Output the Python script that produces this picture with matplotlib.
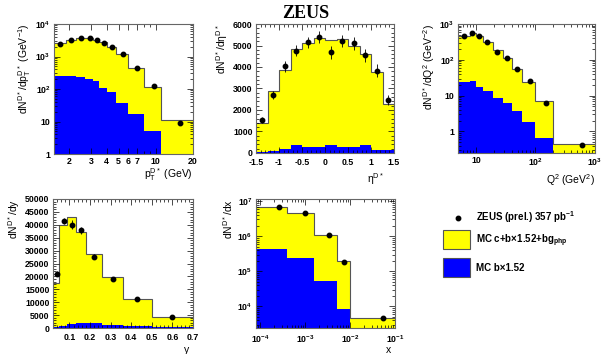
import numpy as np
import matplotlib
matplotlib.use('Agg')
from matplotlib import pyplot as plt
from matplotlib.patches import Rectangle
from matplotlib.ticker import FixedLocator, NullFormatter, AutoMinorLocator

plt.rcParams['font.family'] = ['Liberation Sans', 'DejaVu Sans']
plt.rcParams['font.weight'] = 'bold'
plt.rcParams['mathtext.fontset'] = 'custom'
plt.rcParams['mathtext.rm'] = 'Liberation Sans:bold'
plt.rcParams['mathtext.it'] = 'Liberation Sans:bold'
plt.rcParams['mathtext.bf'] = 'Liberation Sans:bold'
plt.rcParams['mathtext.default'] = 'regular'

YELLOW = '#ffff00'
BLUE = '#0000ff'
EDGE = '#555555'

# pT distribution
pt_edges = [1.5, 1.88, 2.28, 2.68, 3.08, 3.5, 4.0, 4.75, 6.0, 8.0, 11.0, 20.0]
pt_mc = [2680, 3300, 3700, 3800, 3300, 2700, 1950, 1220, 435, 113, 11]
pt_b = [245, 258, 235, 208, 177, 105, 79, 38, 17, 5, 0.5]
pt_x = [1.68, 2.07, 2.48, 2.92, 3.35, 3.82, 4.41, 5.42, 7.06, 9.66, 15.7]
pt_data = [2350, 3300, 3700, 3750, 3200, 2650, 1950, 1200, 440, 122, 9.2]
pt_err = [150, 180, 200, 200, 180, 150, 110, 70, 30, 10, 1.5]

# eta distribution
eta_edges = [-1.5, -1.25, -1.0, -0.75, -0.5, -0.25, 0.0, 0.25, 0.5, 0.75, 1.0, 1.25, 1.5]
eta_mc = [1390, 2875, 3865, 4840, 5100, 5330, 5240, 5290, 4980, 4610, 3760, 2300]
eta_b = [60, 110, 200, 390, 280, 290, 350, 280, 280, 350, 150, 150]
eta_data = [1530, 2705, 4035, 4760, 5150, 5395, 4685, 5210, 5100, 4545, 3835, 2460]
eta_err = [150, 200, 250, 250, 250, 280, 300, 300, 300, 300, 300, 250]

# Q2 distribution
q2_edges = [5, 8, 10, 13, 19, 28, 40, 60, 100, 200, 1000]
q2_mc = [450, 545, 450, 320, 183, 114, 57, 24.5, 7.1, 0.45]
q2_b = [24.4, 26, 17, 13.5, 8.7, 6.3, 3.7, 1.85, 0.65, 0.1]
q2_x = [6.3, 8.55, 11.1, 15.3, 22.7, 33.5, 49.5, 80, 150, 610]
q2_data = [470, 550, 450, 310, 170, 109, 56, 25, 6.2, 0.43]
q2_err = [30, 35, 30, 20, 12, 8, 4, 2, 0.6, 0.05]

# y distribution
y_edges = [0.02, 0.05, 0.09, 0.13, 0.18, 0.26, 0.36, 0.50, 0.70]
y_mc = [17400, 40000, 42900, 37100, 28600, 19700, 11200, 4400]
y_b = [500, 900, 1500, 1800, 1900, 1300, 800, 400]
y_x = [0.0395, 0.0737, 0.111, 0.155, 0.22, 0.313, 0.43, 0.60]
y_data = [21000, 41500, 40000, 37800, 27700, 18900, 11300, 4400]
y_err = [1000, 1300, 1800, 1500, 1000, 800, 500, 300]

# x distribution
x_edges = [8e-5, 4e-4, 1.6e-3, 5e-3, 1e-2, 1e-1]
x_mc = [7.0e6, 4.5e6, 1.08e6, 2.0e5, 4.5e3]
x_b = [4.4e5, 2.4e5, 5.1e4, 8.3e3, 1.0]
x_x = [2.6e-4, 1.0e-3, 3.4e-3, 7.4e-3, 5.3e-2]
x_data = [7.0e6, 4.5e6, 1.1e6, 1.8e5, 4.6e3]
x_err = [2.5e5, 1.8e5, 5e4, 1e4, 4e2]

W, H = 605, 354
fig = plt.figure(figsize=(W / 100, H / 100), dpi=100)


def box(l, r, t, b):
    return [l / W, 1 - b / H, (r - l) / W, (b - t) / H]


def panel(rect, edges, mc, bb, px, data, err, logy, base):
    ax = fig.add_axes(rect)
    ax.stairs(mc, edges, fill=True, color=YELLOW, baseline=base)
    ax.stairs(bb, edges, fill=True, color=BLUE, baseline=base)
    ax.stairs(mc, edges, color=EDGE, lw=0.8, baseline=None)
    ax.errorbar(px, data, yerr=err, fmt='o', color='black', ms=3.2,
                elinewidth=0.6, capsize=0)
    ax.tick_params(which='both', direction='in', top=True, right=True,
                   labelsize=6.3, width=0.5, pad=2.5)
    ax.tick_params(which='major', length=4)
    ax.tick_params(which='minor', length=2)
    for s in ax.spines.values():
        s.set_color('#666666')
        s.set_linewidth(0.8)
    if logy:
        ax.set_yscale('log')
    return ax


# pT panel
ax1 = panel(box(54, 193, 24, 154), pt_edges, pt_mc, pt_b, pt_x, pt_data,
            pt_err, True, 1e-3)
ax1.set_xscale('log')
ax1.set_xlim(1.5, 20)
ax1.set_ylim(1, 1e4)
ax1.xaxis.set_major_locator(FixedLocator([2, 3, 4, 5, 6, 7, 10, 20]))
ax1.set_xticklabels(['2', '3', '4', '5', '6', '7', '10', '20'])
ax1.xaxis.set_minor_formatter(NullFormatter())
ax1.yaxis.set_major_locator(FixedLocator([1, 10, 100, 1000, 1e4]))
ax1.set_yticklabels(['1', '10', '10$^{2}$', '10$^{3}$', '10$^{4}$'])
ax1.set_ylabel('dN$^{D*}$/dp$_{T}^{D*}$ (GeV$^{-1}$)', loc='top', fontsize=7.5,
               labelpad=2)
ax1.set_xlabel('p$_{T}^{D*}$ (GeV)', loc='right', fontsize=7.5, labelpad=0)

# eta panel
ax2 = panel(box(256, 394, 24, 153), eta_edges, eta_mc, eta_b,
            [(a + b) / 2 for a, b in zip(eta_edges[:-1], eta_edges[1:])],
            eta_data, eta_err, False, 0)
ax2.set_xlim(-1.5, 1.5)
ax2.set_ylim(0, 6000)
ax2.set_xticks([-1.5, -1, -0.5, 0, 0.5, 1, 1.5])
ax2.set_xticklabels(['-1.5', '-1', '-0.5', '0', '0.5', '1', '1.5'])
ax2.xaxis.set_minor_locator(AutoMinorLocator(5))
ax2.yaxis.set_minor_locator(AutoMinorLocator(5))
ax2.tick_params(axis='x', which='major', pad=3.5)
ax2.set_ylabel('dN$^{D*}$/d$\\eta^{D*}$', loc='top', fontsize=7.5, labelpad=2)
ax2.set_xlabel('$\\eta^{D*}$', loc='right', fontsize=7.5, labelpad=5)
ax2.xaxis.set_label_coords(0.93, -0.14)

# Q2 panel
ax3 = panel(box(458, 595, 24, 153), q2_edges, q2_mc, q2_b, q2_x, q2_data,
            q2_err, True, 1e-3)
ax3.set_xscale('log')
ax3.set_xlim(5, 1000)
ax3.set_ylim(0.25, 1000)
ax3.xaxis.set_major_locator(FixedLocator([10, 100, 1000]))
ax3.set_xticklabels(['10', '10$^{2}$', '10$^{3}$'])
ax3.xaxis.set_minor_formatter(NullFormatter())
ax3.yaxis.set_major_locator(FixedLocator([1, 10, 100, 1000]))
ax3.set_yticklabels(['1', '10', '10$^{2}$', '10$^{3}$'])
ax3.yaxis.set_minor_formatter(NullFormatter())
ax3.set_ylabel('dN$^{D*}$/dQ$^{2}$ (GeV$^{-2}$)', loc='top', fontsize=7.5,
               labelpad=2)
ax3.set_xlabel('Q$^{2}$ (GeV$^{2}$)', loc='right', fontsize=7.5, labelpad=3)

# y panel
ax4 = panel(box(53, 193, 199, 328), y_edges, y_mc, y_b, y_x, y_data,
            y_err, False, 0)
ax4.set_xlim(0.02, 0.7)
ax4.set_ylim(0, 50000)
ax4.set_xticks([0.1, 0.2, 0.3, 0.4, 0.5, 0.6, 0.7])
ax4.set_yticks(np.arange(0, 50001, 5000))
ax4.xaxis.set_minor_locator(AutoMinorLocator(5))
ax4.yaxis.set_minor_locator(AutoMinorLocator(5))
ax4.tick_params(axis='x', which='major', pad=3.5)
ax4.set_ylabel('dN$^{D*}$/dy', loc='top', fontsize=7.5, labelpad=2)
ax4.set_xlabel('y', loc='right', fontsize=7.5, labelpad=1)
ax4.xaxis.set_label_coords(0.97, -0.13)

# x panel
ax5 = panel(box(256, 395, 199, 328), x_edges, x_mc, x_b, x_x, x_data,
            x_err, True, 1e-3)
ax5.set_xscale('log')
ax5.set_xlim(8e-5, 0.1)
ax5.set_ylim(2.4e3, 1.15e7)
ax5.xaxis.set_major_locator(FixedLocator([1e-4, 1e-3, 1e-2, 1e-1]))
ax5.set_xticklabels(['10$^{-4}$', '10$^{-3}$', '10$^{-2}$', '10$^{-1}$'])
ax5.xaxis.set_minor_formatter(NullFormatter())
ax5.yaxis.set_major_locator(FixedLocator([1e4, 1e5, 1e6, 1e7]))
ax5.set_yticklabels(['10$^{4}$', '10$^{5}$', '10$^{6}$', '10$^{7}$'])
ax5.yaxis.set_minor_formatter(NullFormatter())
ax5.tick_params(axis='x', which='major', pad=3.5)
ax5.set_ylabel('dN$^{D*}$/dx', loc='top', fontsize=7.5, labelpad=2)
ax5.set_xlabel('x', loc='right', fontsize=7.5, labelpad=1)
ax5.xaxis.set_label_coords(0.97, -0.13)

# title
fig.text(306 / W, 1 - 14 / H, 'ZEUS', ha='center', va='center',
         family=['Liberation Serif', 'DejaVu Serif'], weight='bold', fontsize=13)

# legend
fig.lines.append(plt.Line2D([458 / W], [1 - 218 / H], marker='o', ms=3.2,
                            color='black', transform=fig.transFigure))
fig.text(476 / W, 1 - 217 / H, 'ZEUS (prel.) 357 pb$^{-1}$', fontsize=7,
         va='center')
fig.patches.append(Rectangle((443 / W, 1 - 249 / H), 27 / W, 19 / H,
                             facecolor=YELLOW, edgecolor=EDGE, lw=0.8,
                             transform=fig.transFigure))
fig.text(476 / W, 1 - 241 / H, 'MC c+b\u00d71.52+bg$_{php}$', fontsize=7,
         va='center')
fig.patches.append(Rectangle((443 / W, 1 - 277 / H), 27 / W, 19 / H,
                             facecolor=BLUE, edgecolor=EDGE, lw=0.8,
                             transform=fig.transFigure))
fig.text(476 / W, 1 - 268 / H, 'MC b\u00d71.52', fontsize=7, va='center')

fig.savefig('out.png', dpi=100)
